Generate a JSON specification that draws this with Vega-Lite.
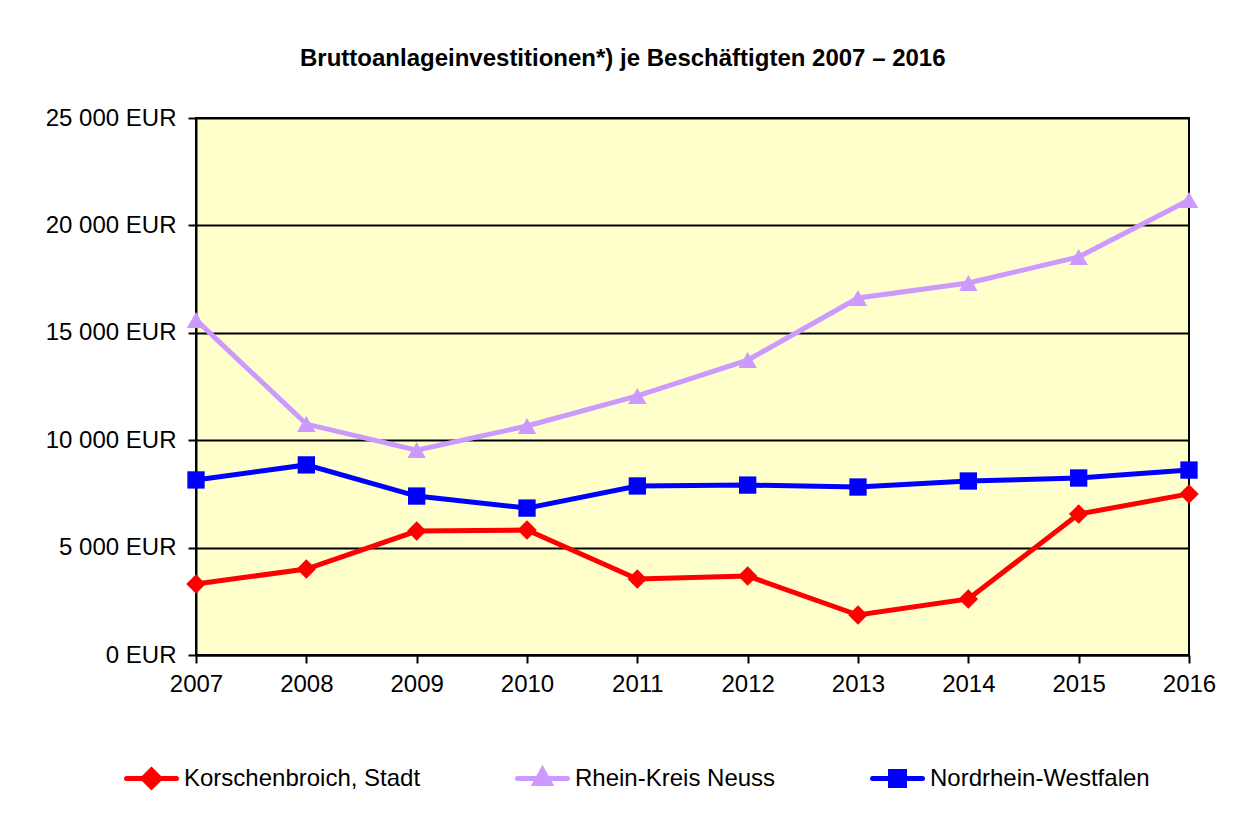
{
  "$schema": "https://vega.github.io/schema/vega-lite/v6.json",
  "autosize": "none",
  "width": 993,
  "height": 537,
  "padding": {"left": 196, "top": 118, "right": 65, "bottom": 173},
  "background": "white",
  "title": {
    "text": "Bruttoanlageinvestitionen*) je Beschäftigten 2007 – 2016",
    "anchor": "start",
    "frame": "group",
    "dx": 104,
    "offset": 35,
    "font": "Liberation Sans",
    "fontSize": 24,
    "fontWeight": "bold",
    "color": "black"
  },
  "config": {
    "view": {"fill": "#FFFFCC", "stroke": "black", "strokeWidth": 2},
    "font": "Liberation Sans"
  },
  "data": {
    "values": [
      {"Jahr": "2007", "Region": "Korschenbroich, Stadt", "Wert": 3310},
      {"Jahr": "2008", "Region": "Korschenbroich, Stadt", "Wert": 4000},
      {"Jahr": "2009", "Region": "Korschenbroich, Stadt", "Wert": 5770},
      {"Jahr": "2010", "Region": "Korschenbroich, Stadt", "Wert": 5820},
      {"Jahr": "2011", "Region": "Korschenbroich, Stadt", "Wert": 3540},
      {"Jahr": "2012", "Region": "Korschenbroich, Stadt", "Wert": 3680},
      {"Jahr": "2013", "Region": "Korschenbroich, Stadt", "Wert": 1860},
      {"Jahr": "2014", "Region": "Korschenbroich, Stadt", "Wert": 2610},
      {"Jahr": "2015", "Region": "Korschenbroich, Stadt", "Wert": 6560},
      {"Jahr": "2016", "Region": "Korschenbroich, Stadt", "Wert": 7500},
      {"Jahr": "2007", "Region": "Rhein-Kreis Neuss", "Wert": 15600},
      {"Jahr": "2008", "Region": "Rhein-Kreis Neuss", "Wert": 10750},
      {"Jahr": "2009", "Region": "Rhein-Kreis Neuss", "Wert": 9540},
      {"Jahr": "2010", "Region": "Rhein-Kreis Neuss", "Wert": 10660},
      {"Jahr": "2011", "Region": "Rhein-Kreis Neuss", "Wert": 12060},
      {"Jahr": "2012", "Region": "Rhein-Kreis Neuss", "Wert": 13730},
      {"Jahr": "2013", "Region": "Rhein-Kreis Neuss", "Wert": 16620},
      {"Jahr": "2014", "Region": "Rhein-Kreis Neuss", "Wert": 17320},
      {"Jahr": "2015", "Region": "Rhein-Kreis Neuss", "Wert": 18530},
      {"Jahr": "2016", "Region": "Rhein-Kreis Neuss", "Wert": 21180},
      {"Jahr": "2007", "Region": "Nordrhein-Westfalen", "Wert": 8150},
      {"Jahr": "2008", "Region": "Nordrhein-Westfalen", "Wert": 8850},
      {"Jahr": "2009", "Region": "Nordrhein-Westfalen", "Wert": 7400},
      {"Jahr": "2010", "Region": "Nordrhein-Westfalen", "Wert": 6840},
      {"Jahr": "2011", "Region": "Nordrhein-Westfalen", "Wert": 7870},
      {"Jahr": "2012", "Region": "Nordrhein-Westfalen", "Wert": 7910},
      {"Jahr": "2013", "Region": "Nordrhein-Westfalen", "Wert": 7820},
      {"Jahr": "2014", "Region": "Nordrhein-Westfalen", "Wert": 8100},
      {"Jahr": "2015", "Region": "Nordrhein-Westfalen", "Wert": 8240},
      {"Jahr": "2016", "Region": "Nordrhein-Westfalen", "Wert": 8610}
    ]
  },
  "encoding": {
    "x": {
      "field": "Jahr",
      "type": "ordinal",
      "scale": {"type": "point", "padding": 0},
      "axis": {
        "title": null,
        "labelAngle": 0,
        "labelFontSize": 24,
        "labelColor": "black",
        "labelPadding": 9,
        "domainColor": "black",
        "domainWidth": 2,
        "tickColor": "black",
        "tickWidth": 2,
        "tickSize": 8,
        "grid": false
      }
    },
    "y": {
      "field": "Wert",
      "type": "quantitative",
      "scale": {"domain": [0, 25000], "nice": false},
      "axis": {
        "title": null,
        "values": [0, 5000, 10000, 15000, 20000, 25000],
        "labelExpr": "replace(format(datum.value, ',d'), ',', ' ') + ' EUR'",
        "labelFontSize": 24,
        "labelColor": "black",
        "labelPadding": 12,
        "labelLimit": 0,
        "domainColor": "black",
        "domainWidth": 2,
        "tickColor": "black",
        "tickWidth": 2,
        "tickSize": 8,
        "grid": true,
        "gridColor": "black",
        "gridWidth": 2,
        "gridOpacity": 1
      }
    },
    "color": {
      "field": "Region",
      "type": "nominal",
      "scale": {
        "domain": ["Korschenbroich, Stadt", "Rhein-Kreis Neuss", "Nordrhein-Westfalen"],
        "range": ["#FF0000", "#CC99FF", "#0000FF"]
      },
      "legend": {
        "orient": "none",
        "legendX": -72,
        "legendY": 633,
        "direction": "horizontal",
        "title": null,
        "symbolSize": 2500,
        "symbolStrokeWidth": 5,
        "labelFontSize": 24,
        "labelColor": "black",
        "labelOffset": 5,
        "labelLimit": 0,
        "gridAlign": "none",
        "columnPadding": 86,
        "encode": {
          "symbols": {
            "update": {
              "shape": {"signal": "datum.index == 0 ? 'M-1,0L1,0M0,-0.34L0.34,0L0,0.34L-0.34,0Z' : datum.index == 1 ? 'M-1,0L1,0M0,-0.34L0.3,0.2L-0.3,0.2Z' : 'M-1,0L1,0M-0.28,-0.28L0.28,-0.28L0.28,0.28L-0.28,0.28Z'"},
              "fill": {"scale": "color", "field": "value"},
              "stroke": {"scale": "color", "field": "value"},
              "strokeWidth": {"value": 5},
              "strokeCap": {"value": "round"},
              "opacity": {"value": 1}
            }
          }
        }
      }
    }
  },
  "layer": [
    {
      "mark": {"type": "line", "strokeWidth": 5}
    },
    {
      "transform": [{"filter": "datum.Region == 'Korschenbroich, Stadt'"}],
      "mark": {"type": "point", "shape": "diamond", "filled": true, "opacity": 1, "size": 380}
    },
    {
      "transform": [{"filter": "datum.Region == 'Rhein-Kreis Neuss'"}],
      "mark": {"type": "point", "shape": "triangle-up", "filled": true, "opacity": 1, "size": 340}
    },
    {
      "transform": [{"filter": "datum.Region == 'Nordrhein-Westfalen'"}],
      "mark": {"type": "point", "shape": "square", "filled": true, "opacity": 1, "size": 300}
    }
  ]
}
